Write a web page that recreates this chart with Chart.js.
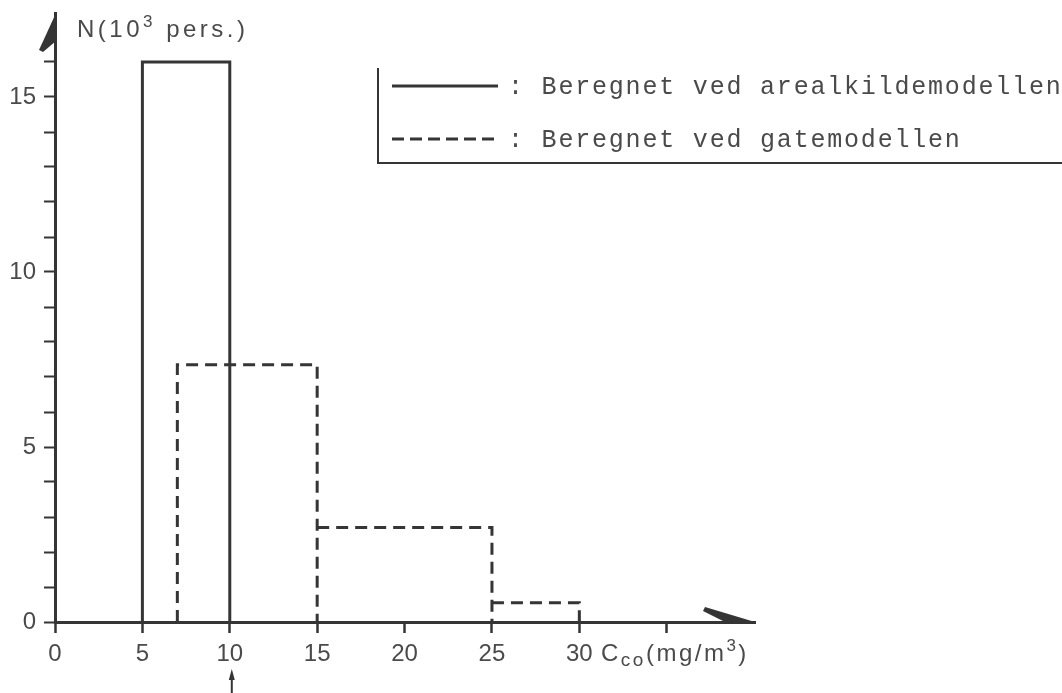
<!DOCTYPE html>
<html>
<head>
<meta charset="utf-8">
<script src="https://cdn.jsdelivr.net/npm/chart.js@4.4.1/dist/chart.umd.min.js"></script>
<style>
  html, body { margin: 0; background: #fff; }
  #wrap { width: 1062px; height: 693px; position: relative; }
</style>
</head>
<body>
<div id="wrap"><canvas id="hist"></canvas></div>
<script>
// ─── data ────────────────────────────────────────────────────────────────────
const areaEdges   = [5, 10];             // arealkildemodellen, bin edges (mg/m3)
const areaCounts  = [16];                // 10^3 pers.
const streetEdges = [7, 15, 25, 30];     // gatemodellen, bin edges (mg/m3)
const streetCounts = [7.35, 2.7, 0.55];  // 10^3 pers.
const xTickValues = [0, 5, 10, 15, 20, 25, 30, 35];
const xTickLabels = [0, 5, 10, 15, 20, 25, 30];
const yTickValues = [0, 1, 2, 3, 4, 5, 6, 7, 8, 9, 10, 11, 12, 13, 14, 15, 16];
const yTickLabels = [0, 5, 10, 15];
const legendLabels = ['Beregnet ved arealkildemodellen', 'Beregnet ved gatemodellen'];
const markedValue = 10;                  // small arrow under the x axis

const INK  = '#353535';
const TEXT = '#4a4a4a';
const SANS = '"Liberation Sans", Arial, sans-serif';
const MONO = '"Liberation Mono", "Courier New", monospace';

// histogram outline: each bin as its own open rectangle, no bottom
function outline(edges, counts) {
  const pts = [];
  counts.forEach((h, i) => {
    if (i > 0) pts.push({ x: edges[i], y: null });
    const startLow = i === 0 || counts[i - 1] < h;
    pts.push({ x: edges[i], y: startLow ? 0 : h });
    pts.push({ x: edges[i], y: h });
    pts.push({ x: edges[i + 1], y: h });
    pts.push({ x: edges[i + 1], y: 0 });
  });
  return pts;
}

// text made of pieces with raised / lowered parts
function richText(ctx, parts, x, y) {
  parts.forEach(([s, size, dy]) => {
    ctx.font = size + 'px ' + SANS;
    ctx.fillText(s, x, y + dy);
    x += ctx.measureText(s).width;
  });
}

// ─── annotations: arrows, titles, legend box ─────────────────────────────────
const decor = {
  id: 'decor',
  afterDraw(chart) {
    const { ctx, chartArea: a, scales: { x } } = chart;
    ctx.save();
    ctx.fillStyle = INK;
    ctx.strokeStyle = INK;

    // y axis arrowhead (half barb on the left)
    ctx.beginPath();
    ctx.moveTo(a.left + 1, a.top);
    ctx.lineTo(a.left - 16, a.top + 37);
    ctx.lineTo(a.left - 12, a.top + 39);
    ctx.lineTo(a.left + 1, a.top + 28);
    ctx.closePath();
    ctx.fill();

    // x axis arrowhead (half barb above)
    ctx.beginPath();
    ctx.moveTo(a.right, a.bottom);
    ctx.lineTo(a.right - 50, a.bottom - 15);
    ctx.lineTo(a.right - 52, a.bottom - 11);
    ctx.lineTo(a.right - 28, a.bottom + 1);
    ctx.closePath();
    ctx.fill();

    // small arrow under the marked value
    const mx = x.getPixelForValue(markedValue) + 2;
    ctx.lineWidth = 2;
    ctx.beginPath();
    ctx.moveTo(mx, 693);
    ctx.lineTo(mx, 676);
    ctx.stroke();
    ctx.beginPath();
    ctx.moveTo(mx, 669);
    ctx.lineTo(mx - 3, 680);
    ctx.lineTo(mx + 3, 680);
    ctx.closePath();
    ctx.fill();

    // axis titles
    ctx.fillStyle = TEXT;
    ctx.textBaseline = 'alphabetic';
    ctx.textAlign = 'left';
    ctx.letterSpacing = '3.5px';
    richText(ctx, [['N(10', 24, 0], ['3', 17, -10], [' pers.)', 24, 0]], 77, 37);
    ctx.letterSpacing = '2.5px';
    richText(ctx, [['C', 24, 0], ['co', 19, 5], ['(mg/m', 24, 0], ['3', 17, -10], [')', 24, 0]], 601, 661);

    // legend box (left and bottom rule only)
    ctx.letterSpacing = '0px';
    ctx.lineWidth = 2;
    ctx.beginPath();
    ctx.moveTo(378, 68);
    ctx.lineTo(378, 163);
    ctx.lineTo(1062, 163);
    ctx.stroke();

    const rows = [86, 139];
    rows.forEach((ry, i) => {
      ctx.lineWidth = 3;
      ctx.setLineDash(i === 0 ? [] : [12, 6]);
      ctx.beginPath();
      ctx.moveTo(392, ry);
      ctx.lineTo(498, ry);
      ctx.stroke();
      ctx.setLineDash([]);
      ctx.font = '25px ' + MONO;
      ctx.letterSpacing = '1.8px';
      ctx.textBaseline = 'middle';
      ctx.fillText(': ' + legendLabels[i], 508, ry + 1);
    });
    ctx.restore();
  },
};

// ─── chart ───────────────────────────────────────────────────────────────────
new Chart(document.getElementById('hist').getContext('2d'), {
  type: 'scatter',
  data: {
    datasets: [
      {
        label: legendLabels[0],
        data: outline(areaEdges, areaCounts),
        showLine: true, spanGaps: false,
        borderColor: INK, borderWidth: 3,
        pointRadius: 0, pointHoverRadius: 0, tension: 0, fill: false,
      },
      {
        label: legendLabels[1],
        data: outline(streetEdges, streetCounts),
        showLine: true, spanGaps: false,
        borderColor: INK, borderWidth: 3, borderDash: [12, 7],
        pointRadius: 0, pointHoverRadius: 0, tension: 0, fill: false,
      },
    ],
  },
  options: {
    responsive: true, maintainAspectRatio: false, animation: false,
    layout: { padding: { top: 13, right: 307, left: 0, bottom: 0 } },
    plugins: { legend: { display: false }, tooltip: { enabled: false } },
    scales: {
      x: {
        type: 'linear', min: 0, max: 40.05,
        afterBuildTicks: s => { s.ticks = xTickValues.map(v => ({ value: v })); },
        afterFit: s => { s.height = 71; s.paddingLeft = 0; s.paddingRight = 0; },
        ticks: { color: TEXT, font: { family: SANS, size: 24 }, padding: 7, maxRotation: 0,
          callback: v => xTickLabels.includes(v) ? String(v) : '' },
        grid: { drawOnChartArea: false, tickLength: 11, tickWidth: 2.5, tickColor: INK },
        border: { color: INK, width: 3 },
      },
      y: {
        min: 0, max: 17.4,
        afterBuildTicks: s => { s.ticks = yTickValues.map(v => ({ value: v })); },
        afterFit: s => { s.width = 55; s.paddingTop = 0; s.paddingBottom = 0; },
        ticks: { color: TEXT, font: { family: SANS, size: 24 }, padding: 8,
          callback: v => yTickLabels.includes(v) ? String(v) : '' },
        grid: { drawOnChartArea: false, tickLength: 11, tickWidth: 2, tickColor: INK },
        border: { color: INK, width: 3 },
      },
    },
  },
  plugins: [decor],
});
</script>
</body>
</html>
